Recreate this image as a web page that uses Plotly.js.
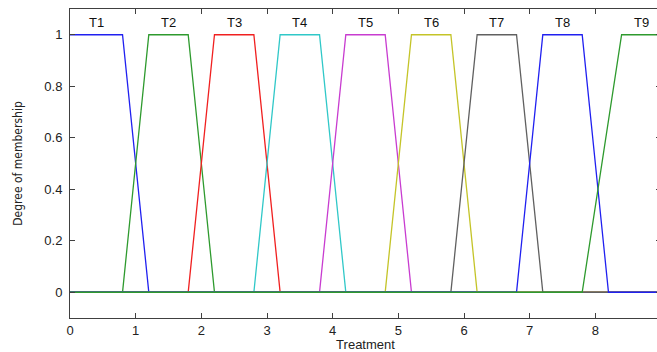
<!DOCTYPE html>
<html>
<head>
<meta charset="utf-8">
<script src="https://cdn.plot.ly/plotly-3.0.1.min.js"></script>
<style>
html,body{margin:0;padding:0;overflow:hidden;background:#fff;}
#chart{width:670px;height:352px;}
</style>
</head>
<body>
<div id="chart"></div>
<script>
// Trapezoid breakpoints for each membership function
var names = ["T1","T2","T3","T4","T5","T6","T7","T8","T9"];
var xs = [
  [0, 0, 0.8, 1.2, 9],
  [0, 0.8, 1.2, 1.8, 2.2, 9],
  [0, 1.8, 2.2, 2.8, 3.2, 9],
  [0, 2.8, 3.2, 3.8, 4.2, 9],
  [0, 3.8, 4.2, 4.8, 5.2, 9],
  [0, 4.8, 5.2, 5.8, 6.2, 9],
  [0, 5.8, 6.2, 6.8, 7.2, 9],
  [0, 6.8, 7.2, 7.8, 8.2, 9],
  [0, 7.8, 8.4, 9]
];
var ys = [
  [1, 1, 1, 0, 0],
  [0, 0, 1, 1, 0, 0],
  [0, 0, 1, 1, 0, 0],
  [0, 0, 1, 1, 0, 0],
  [0, 0, 1, 1, 0, 0],
  [0, 0, 1, 1, 0, 0],
  [0, 0, 1, 1, 0, 0],
  [0, 0, 1, 1, 0, 0],
  [0, 0, 1, 1]
];
var colors = ["#2020f0","#2e9a2e","#f02020","#30c8c8","#c83cd0","#c4c428","#606060","#2020f0","#2e9a2e"];
var labelX = [0.4, 1.5, 2.5, 3.5, 4.5, 5.5, 6.5, 7.5, 8.7];
var labelY = 1.047;
var yTicks = [0, 0.2, 0.4, 0.6, 0.8, 1];
var yTickText = ["0","0.2","0.4","0.6","0.8","1"];
var xTicks = [0,1,2,3,4,5,6,7,8];

var traces = names.map(function(n, i){
  return {x: xs[i], y: ys[i], mode: "lines", name: n,
          line: {color: colors[i], width: 1.3}, hoverinfo: "skip"};
});

var font = "Liberation Sans, Arial, Helvetica, sans-serif";
var annotations = names.map(function(n, i){
  return {x: labelX[i], y: labelY, xref: "x", yref: "y", text: n, showarrow: false,
          font: {family: font, size: 13, color: "#111"}, xanchor: "center", yanchor: "middle"};
});

var layout = {
  width: 670, height: 352,
  margin: {l: 70, r: 9, t: 9, b: 34},
  paper_bgcolor: "#fff", plot_bgcolor: "#fff",
  showlegend: false,
  xaxis: {
    range: [0, 9], tickvals: xTicks, ticks: "inside", ticklen: 5, tickcolor: "#404040",
    showline: true, linecolor: "#404040", linewidth: 1, mirror: "allticks",
    showgrid: false, zeroline: false,
    tickfont: {family: font, size: 13, color: "#222"},
    title: {text: "Treatment", font: {family: font, size: 13, color: "#222"}, standoff: 2}
  },
  yaxis: {
    range: [-0.1, 1.1], tickvals: yTicks, ticktext: yTickText, ticks: "inside", ticklen: 5, tickcolor: "#404040",
    showline: true, linecolor: "#404040", linewidth: 1, mirror: "allticks",
    showgrid: false, zeroline: false,
    tickfont: {family: font, size: 13, color: "#222"},
    ticklabelstandoff: 4,
    title: {text: "Degree of membership", font: {family: "Liberation Sans Narrow, DejaVu Sans Condensed, Arial Narrow, sans-serif", size: 12, color: "#222"}, standoff: 19}
  },
  annotations: annotations
};

Plotly.newPlot("chart", traces, layout, {displayModeBar: false, staticPlot: true});
</script>
</body>
</html>
